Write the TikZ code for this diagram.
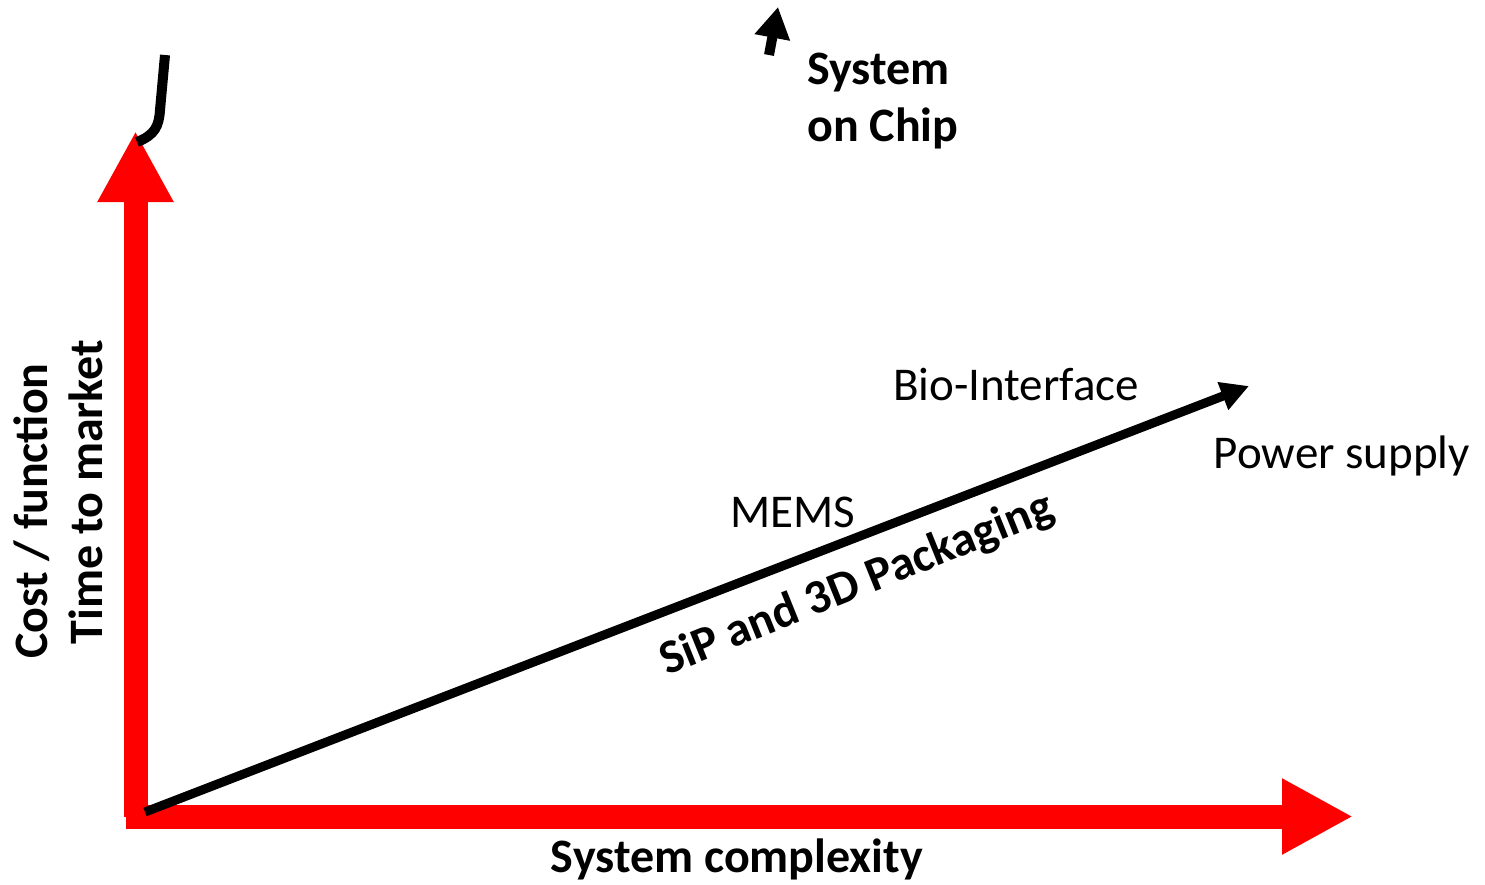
\documentclass[tikz,border=0pt]{standalone}
\usepackage{fontspec}
\setmainfont{Carlito}
\usetikzlibrary{arrows.meta}

\begin{document}
\begin{tikzpicture}[x=1pt, y=-1pt,
		axis/.style={draw=red, line width=24pt, -{Triangle[length=71pt,width=71pt]}},
		trend/.style={draw=black, line width=9pt},
		lbl/.style={inner sep=0pt, font=\fontsize{47}{57}\selectfont},
		blbl/.style={inner sep=0pt, font=\fontsize{48}{57}\selectfont\bfseries}]
				\useasboundingbox (0,0) rectangle (1485,884);
				% Draw axes
				\coordinate (origin) at (135.5,817);
				\coordinate (ytip) at (135.5,131);
				\coordinate (xstart) at (126,816.5);
				\coordinate (xtip) at (1353,816.5);
				\draw[axis] (origin) -- (ytip);
				\draw[axis] (xstart) -- (xtip);
				% Draw trend
				\coordinate (sip) at (145,812);
				\coordinate (soc) at (1249,386);
				\draw[trend, -{Triangle[length=28pt,width=28pt]}] (sip) -- (soc);
				% Hook above the cost axis
				\coordinate (hookA) at (137,142);
				\coordinate (hookB) at (160,110);
				\coordinate (hookC) at (165,55);
				\draw[trend, line width=10pt] (hookA) .. controls (155,135) and (159,126) .. (hookB) -- (hookC);
				% Arrow up to system on chip
				\coordinate (socfoot) at (769,55);
				\coordinate (socup) at (778,7);
				\draw[trend, line width=10pt, -{Triangle[length=31pt,width=34pt]}] (socfoot) -- (socup);
				% Labels
				\node[blbl, anchor=base west, align=left] (soclbl) at (807,141) {System\\on Chip};
				\node[lbl, anchor=base] (bio) at (1016,400) {Bio-Interface};
				\node[lbl, anchor=base] (mems) at (793,527) {MEMS};
				\node[lbl, anchor=base] (power) at (1342,468) {Power supply};
				\node[blbl, anchor=base] (xlbl) at (737,872) {System complexity};
				\node[blbl, rotate=90, anchor=base] (cost) at (47,511) {Cost / function};
				\node[blbl, rotate=90, anchor=base] (ttm) at (102,492) {Time to market};
				\node[blbl, rotate=22] (pkg) at (857,585) {SiP and 3D Packaging};
			\end{tikzpicture}
\end{document}
